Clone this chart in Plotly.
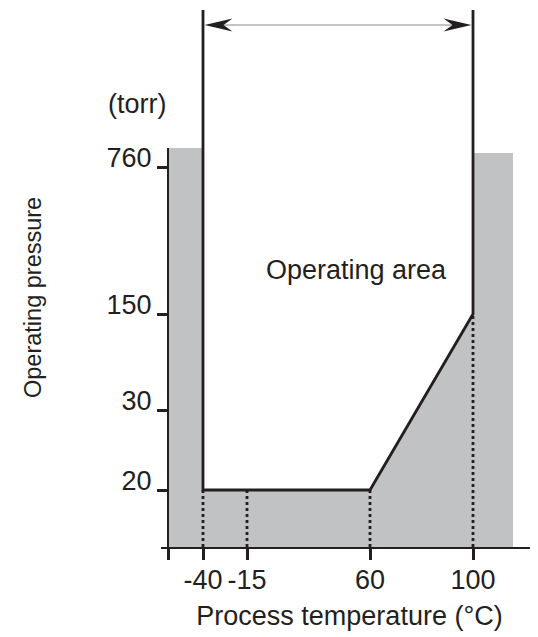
import numpy as np
import plotly.graph_objects as go

# ---- data ----
TEMPERATURES = [-40, -15, 60, 100]          # °C tick labels
PRESSURES = [20, 30, 150, 760]              # torr tick labels
BOUNDARY_TEMP = [-40, 60, 100]              # lower limit of operating area
BOUNDARY_PRESSURE = [20, 20, 150]

# ---- schematic (non-linear) axis scale ----
TEMP_AXIS_POS = [42, 86, 209, 312]
PRES_AXIS_POS = [57, 137, 233, 380]
X_ORIGIN, X_END = 7, 352          # gray band limits (axis units)
TOP_LEFT, TOP_RIGHT = 399, 394    # gray band tops
LINE_TOP, ARROW_Y = 537, 522
X_RANGE, Y_RANGE = 377, 539


def xs(t):
    return float(np.interp(t, TEMPERATURES, TEMP_AXIS_POS))


def ys(p):
    return float(np.interp(p, PRESSURES, PRES_AXIS_POS))


DARK = "#231f20"
GRAY = "#c1c2c4"
FONT = "Liberation Sans, Arial, sans-serif"

fig = go.Figure()

# gray non-operating region
gx = [X_ORIGIN, X_ORIGIN, xs(BOUNDARY_TEMP[0]), xs(BOUNDARY_TEMP[0])] + \
     [xs(t) for t in BOUNDARY_TEMP[1:]] + [xs(BOUNDARY_TEMP[-1]), X_END, X_END]
gy = [0, TOP_LEFT, TOP_LEFT, ys(BOUNDARY_PRESSURE[0])] + \
     [ys(p) for p in BOUNDARY_PRESSURE[1:]] + [TOP_RIGHT, TOP_RIGHT, 0]
fig.add_trace(go.Scatter(x=gx, y=gy, fill="toself", fillcolor=GRAY,
                         line=dict(width=0), mode="lines", hoverinfo="skip"))

# y axis line (left edge of gray band)
fig.add_trace(go.Scatter(x=[X_ORIGIN, X_ORIGIN], y=[0, TOP_LEFT], mode="lines",
                         line=dict(color=DARK, width=2), hoverinfo="skip"))

# dotted guide lines
for t in TEMPERATURES:
    top = ys(np.interp(t, BOUNDARY_TEMP, BOUNDARY_PRESSURE))
    fig.add_trace(go.Scatter(x=[xs(t), xs(t)], y=[0, top], mode="lines",
                             line=dict(color=DARK, width=2.8, dash="dot"),
                             hoverinfo="skip"))

# operating area boundary
bx = [xs(BOUNDARY_TEMP[0])] + [xs(t) for t in BOUNDARY_TEMP] + [xs(BOUNDARY_TEMP[-1])]
by = [LINE_TOP] + [ys(p) for p in BOUNDARY_PRESSURE] + [LINE_TOP]
fig.add_trace(go.Scatter(x=bx, y=by, mode="lines",
                         line=dict(color=DARK, width=2.8), hoverinfo="skip"))

# double-headed range arrow
x0, x1 = xs(TEMPERATURES[0]) + 1.5, xs(TEMPERATURES[-1]) - 1.5
fig.add_trace(go.Scatter(x=[x0 + 10, x1 - 10], y=[ARROW_Y, ARROW_Y], mode="lines",
                         line=dict(color="#8a8a8a", width=1.2), hoverinfo="skip"))
HL, HN, HW = 28, 19, 6.5
fig.add_trace(go.Scatter(x=[x0, x0 + HL, x0 + HN, x0 + HL, x0],
                         y=[ARROW_Y, ARROW_Y + HW, ARROW_Y, ARROW_Y - HW, ARROW_Y],
                         fill="toself", fillcolor=DARK, mode="lines",
                         line=dict(width=0, color=DARK), hoverinfo="skip"))
fig.add_trace(go.Scatter(x=[x1, x1 - HL, x1 - HN, x1 - HL, x1],
                         y=[ARROW_Y, ARROW_Y + HW, ARROW_Y, ARROW_Y - HW, ARROW_Y],
                         fill="toself", fillcolor=DARK, mode="lines",
                         line=dict(width=0, color=DARK), hoverinfo="skip"))

fig.add_annotation(x=X_ORIGIN, y=443, text="(torr)", showarrow=False,
                   xanchor="right", yanchor="middle",
                   font=dict(family=FONT, size=27, color=DARK))
fig.add_annotation(x=195, y=277, text="Operating area", showarrow=False,
                   xanchor="center", yanchor="middle",
                   font=dict(family=FONT, size=27, color=DARK))
# y-axis title (placed left of the free y axis)
fig.add_annotation(xref="paper", yref="paper", x=-128 / X_RANGE, y=249 / Y_RANGE,
                   text="Operating pressure", showarrow=False,
                   textangle=-90, xanchor="center", yanchor="middle",
                   font=dict(family=FONT, size=23.5, color=DARK))

fig.update_layout(
    width=530, height=629, autosize=False,
    margin=dict(l=153, r=0, t=0, b=90),
    paper_bgcolor="white", plot_bgcolor="white",
    showlegend=False,
    font=dict(family=FONT, size=27, color=DARK),
    xaxis=dict(range=[0, X_RANGE], showgrid=False, zeroline=False,
               showline=True, linecolor=DARK, linewidth=2,
               ticks="outside", ticklen=11, tickwidth=2.5, tickcolor=DARK,
               tickvals=[X_ORIGIN] + [xs(t) for t in TEMPERATURES],
               ticktext=[""] + [str(t) for t in TEMPERATURES],
               ticklabelstandoff=-3,
               tickfont=dict(family=FONT, size=27, color=DARK),
               title=dict(text="Process temperature (°C)", standoff=12,
                          font=dict(family=FONT, size=27, color=DARK)),
               fixedrange=True),
    yaxis=dict(range=[0, Y_RANGE], showgrid=False, zeroline=False,
               showline=False, anchor="free", position=X_ORIGIN / X_RANGE,
               ticks="outside", ticklen=11, tickwidth=2.5, tickcolor=DARK,
               tickvals=[ys(p) for p in PRESSURES],
               ticktext=[str(p) for p in PRESSURES],
               ticklabelshift=-9,
               tickfont=dict(family=FONT, size=27, color=DARK),
               fixedrange=True),
)

fig.write_html("out.html")
